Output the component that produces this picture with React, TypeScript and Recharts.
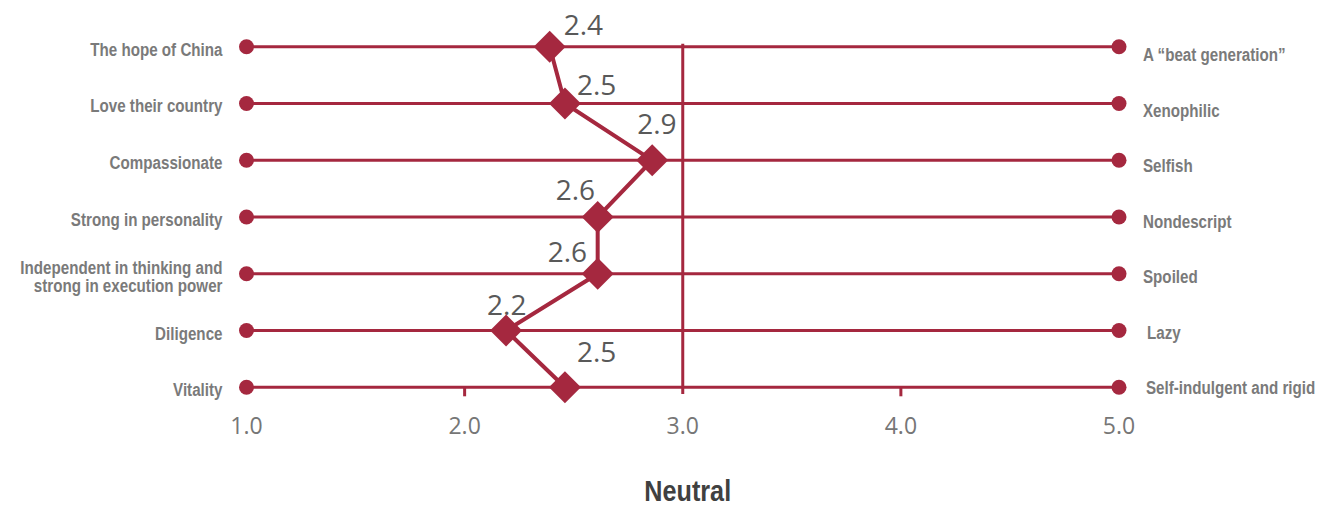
import { LineChart, Line, XAxis, YAxis, ReferenceLine, ReferenceDot, LabelList } from 'recharts';

const leftLabels = [
  'The hope of China',
  'Love their country',
  'Compassionate',
  'Strong in personality',
  'Independent in thinking and\nstrong in execution power',
  'Diligence',
  'Vitality',
];

const rightLabels = [
  'A “beat generation”',
  'Xenophilic',
  'Selfish',
  'Nondescript',
  'Spoiled',
  'Lazy',
  'Self-indulgent and rigid',
];

const scores = [2.39, 2.46, 2.86, 2.61, 2.61, 2.19, 2.46];

const xTicks = [1, 2, 3, 4, 5];
const scaleMin = 1;
const scaleMax = 5;
const neutral = 3;

// label placement around each diamond (px), hand tuned
const labelOffsets = [
  [14, -12],
  [12, -8],
  [-15, -26],
  [-42, -17],
  [-50, -12],
  [-19, -16],
  [12, -25],
];

const RED = '#A5283F';
const BOLD = "'Liberation Sans', Arial, sans-serif";
const LIGHT = "'Open Sans', 'Noto Sans', sans-serif";
const NARROW = 0.82; // no Arial Narrow installed, squeeze Liberation Sans instead

const data = scores.map((v, i) => ({ idx: i, value: v }));
const rowIdx = leftLabels.map((_, i) => i);

function Diamond(props: any) {
  const { cx, cy } = props;
  if (cx == null || cy == null) return null;
  const r = 16;
  return (
    <polygon
      points={`${cx},${cy - r} ${cx + r},${cy} ${cx},${cy + r} ${cx - r},${cy}`}
      fill={RED}
    />
  );
}

function ValueLabel(props: any) {
  const { x, y, value, index } = props;
  const [dx, dy] = labelOffsets[index] || [10, -10];
  return (
    <text x={x + dx} y={y + dy} fill="#595959" fontSize={28} fontFamily={LIGHT}>
      {Number(value).toFixed(1)}
    </text>
  );
}

function LeftTick(props: any) {
  const { x, y, payload } = props;
  const lines = leftLabels[payload.value].split('\n');
  const lh = 18.5;
  const start = y + 9 - ((lines.length - 1) * lh) / 2;
  return (
    <g transform={`translate(${x - 24},${start}) scale(${NARROW},1)`}>
      <text textAnchor="end" fill="#7a7a7a" fontSize={18.5} fontWeight="bold" fontFamily={BOLD}>
        {lines.map((l, i) => (
          <tspan key={i} x={0} y={i * lh}>
            {l}
          </tspan>
        ))}
      </text>
    </g>
  );
}

function RightTick(props: any) {
  const { x, y, payload } = props;
  const i = payload.value;
  const nudge = i === 5 ? 4 : i === 6 ? 3 : 0;
  return (
    <g transform={`translate(${x + 24 + nudge},${y + 14.3 - 1.25 * i}) scale(${NARROW},1)`}>
      <text x={0} y={0} fill="#7a7a7a" fontSize={18.5} fontWeight="bold" fontFamily={BOLD}>
        {rightLabels[i]}
      </text>
    </g>
  );
}

function BottomTick(props: any) {
  const { x, y, payload } = props;
  const v = payload.value;
  const showMark = v !== scaleMin && v !== scaleMax && v !== neutral;
  return (
    <g>
      {showMark && <line x1={x} y1={y} x2={x} y2={y + 9} stroke={RED} strokeWidth={3} />}
      <text x={x} y={y + 47} textAnchor="middle" fill="#767676" fontSize={23} fontFamily={LIGHT}>
        {v.toFixed(1)}
      </text>
    </g>
  );
}

export default function App() {
  return (
    <div style={{ position: 'absolute', left: 0, top: 0, background: '#fff' }}>
      <LineChart width={1322} height={507} data={data} margin={{ top: 46.7, right: 0, bottom: 0, left: 0 }}>
        <XAxis
          type="number"
          dataKey="value"
          domain={[scaleMin, scaleMax]}
          ticks={xTicks}
          interval={0}
          height={119.7}
          axisLine={false}
          tickLine={false}
          tickSize={0}
          tickMargin={0}
          tick={<BottomTick />}
          label={{
            position: 'insideBottom',
            content: ({ viewBox }: any) => (
              <g transform={`translate(${viewBox.x + viewBox.width / 2 + 5},${viewBox.y + viewBox.height - 6}) scale(0.84,1)`}>
                <text x={0} y={0} textAnchor="middle" fill="#404040" fontSize={30} fontWeight="bold" fontFamily={BOLD}>
                  Neutral
                </text>
              </g>
            ),
          }}
        />
        <YAxis
          yAxisId="left"
          type="number"
          dataKey="idx"
          domain={[0, 6]}
          ticks={rowIdx}
          interval={0}
          reversed
          width={246.5}
          axisLine={false}
          tickLine={false}
          tickSize={0}
          tickMargin={0}
          tick={<LeftTick />}
        />
        <YAxis
          yAxisId="right"
          orientation="right"
          type="number"
          dataKey="idx"
          domain={[0, 6]}
          ticks={rowIdx}
          interval={0}
          reversed
          width={203}
          axisLine={false}
          tickLine={false}
          tickSize={0}
          tickMargin={0}
          tick={<RightTick />}
        />
        {rowIdx.map((i) => (
          <ReferenceLine key={`row-${i}`} yAxisId="left" y={i} stroke={RED} strokeWidth={3} />
        ))}
        <ReferenceLine
          yAxisId="left"
          segment={[
            { x: neutral, y: -0.05 },
            { x: neutral, y: 6.12 },
          ]}
          ifOverflow="visible"
          stroke={RED}
          strokeWidth={3}
        />
        {rowIdx.map((i) => (
          <ReferenceDot key={`l-${i}`} yAxisId="left" x={scaleMin} y={i} r={7.5} fill={RED} stroke="none" />
        ))}
        {rowIdx.map((i) => (
          <ReferenceDot key={`r-${i}`} yAxisId="left" x={scaleMax} y={i} r={7.5} fill={RED} stroke="none" />
        ))}
        {/* invisible series so the right axis gets its ticks */}
        <Line
          yAxisId="right"
          dataKey="idx"
          stroke="none"
          dot={false}
          activeDot={false}
          legendType="none"
          isAnimationActive={false}
        />
        <Line
          yAxisId="left"
          type="linear"
          dataKey="idx"
          stroke={RED}
          strokeWidth={4}
          dot={<Diamond />}
          activeDot={false}
          isAnimationActive={false}
        >
          <LabelList dataKey="value" content={<ValueLabel />} />
        </Line>
      </LineChart>
    </div>
  );
}
